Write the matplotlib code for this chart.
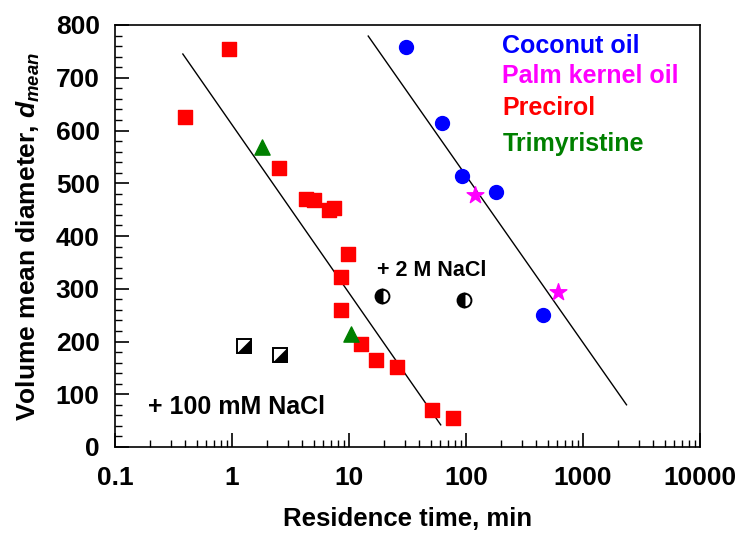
import matplotlib
matplotlib.use('Agg')
import matplotlib.pyplot as plt
import numpy as np
from matplotlib.ticker import MultipleLocator, LogLocator, NullFormatter, FixedLocator
from matplotlib.path import Path

plt.rcParams['font.family'] = ['Liberation Sans', 'DejaVu Sans']
plt.rcParams['font.weight'] = 'bold'
plt.rcParams['mathtext.fontset'] = 'custom'
plt.rcParams['mathtext.rm'] = 'Liberation Sans:bold'
plt.rcParams['mathtext.it'] = 'Liberation Sans:italic:bold'
plt.rcParams['mathtext.bf'] = 'Liberation Sans:bold'

### Data ###
coconut_t = [31, 62, 92, 182, 456]
coconut_d = [758, 615, 513, 483, 251]

palm_t = [120, 611]
palm_d = [477, 293]

precirol_t = [0.40, 0.95, 2.5, 4.27, 5.06, 6.8, 7.5, 9.9, 8.6, 8.6, 12.7, 17.1, 25.8, 51, 77]
precirol_d = [625, 755, 528, 471, 468, 450, 454, 365, 323, 260, 196, 165, 152, 70, 55]

trimyr_t = [1.8, 10.5]
trimyr_d = [568, 215]

nacl100_t = [1.27, 2.56]
nacl100_d = [192, 175]

nacl2m_t = [19.2, 95.6]
nacl2m_d = [287, 279]

fit1_t = [0.38, 60.8]
fit1_d = [745, 42]
fit2_t = [14.6, 2355]
fit2_d = [779, 80]

legend_names = ['Coconut oil', 'Palm kernel oil', 'Precirol', 'Trimyristine']
legend_colors = ['#0000ff', '#ff00ff', '#ff0000', '#008000']

### Plot ###
fig = plt.figure(figsize=(7.36, 5.33), dpi=100)
ax = fig.add_axes([115/736, 1 - 447/533, 585/736, 422/533])

ax.plot(fit1_t, fit1_d, color='black', lw=1)
ax.plot(fit2_t, fit2_d, color='black', lw=1)

ax.scatter(precirol_t, precirol_d, marker='s', s=110, color='#ff0000', zorder=3)
ax.scatter(trimyr_t, trimyr_d, marker='^', s=120, color='#008000', zorder=3)
ax.scatter(coconut_t, coconut_d, marker='o', s=100, color='#0000ff', zorder=3)
ax.scatter(palm_t, palm_d, marker='*', s=160, color='#ff00ff', zorder=3)

# diagonally split squares: white upper-left, black lower-right
lower_right = Path([(1, 1), (1, -1), (-1, -1), (1, 1)], closed=True)
ax.plot(nacl100_t, nacl100_d, ls='none', marker='s', ms=10,
        markerfacecolor='white', markeredgecolor='black', markeredgewidth=1.4, zorder=3)
ax.plot(nacl100_t, nacl100_d, ls='none', marker=lower_right, ms=10,
        markerfacecolor='black', markeredgecolor='black', markeredgewidth=0.5, zorder=4)
ax.plot(nacl2m_t, nacl2m_d, ls='none', marker='o', ms=10, fillstyle='left',
        markerfacecolor='black', markerfacecoloralt='white', markeredgecolor='black',
        markeredgewidth=1.4, zorder=3)

ax.set_xscale('log')
ax.set_xlim(0.1, 10000)
ax.set_ylim(0, 800)

ax.yaxis.set_major_locator(MultipleLocator(100))
ax.yaxis.set_minor_locator(MultipleLocator(20))
ax.xaxis.set_major_locator(FixedLocator([0.1, 1, 10, 100, 1000, 10000]))
ax.xaxis.set_minor_locator(LogLocator(base=10, subs=np.arange(2, 10), numticks=20))
ax.xaxis.set_minor_formatter(NullFormatter())
ax.set_xticklabels(['0.1', '1', '10', '100', '1000', '10000'])

ax.tick_params(which='major', direction='in', length=10, width=1.2, labelsize=19)
ax.tick_params(axis='y', which='major', pad=11)
ax.tick_params(axis='x', which='major', pad=14)
ax.tick_params(which='minor', direction='in', length=5, width=1)
ax.tick_params(axis='x', which='both', top=False)
ax.tick_params(axis='y', which='both', right=False)
for lab in ax.get_xticklabels() + ax.get_yticklabels():
    lab.set_fontweight('bold')
for sp in ax.spines.values():
    sp.set_linewidth(1.2)

ax.set_xlabel('Residence time, min', fontsize=18.5, fontweight='bold', labelpad=12)
ax.set_ylabel(r'Volume mean diameter, $d_{mean}$', fontsize=19, fontweight='bold', labelpad=10)

ax.text(17.5, 335, '+ 2 M NaCl', fontsize=15.5, fontweight='bold', va='center')
ax.text(0.19, 75, '+ 100 mM NaCl', fontsize=18, fontweight='bold', va='center')

legend_y = [0.95, 0.879, 0.803, 0.718]
for name, col, yy in zip(legend_names, legend_colors, legend_y):
    ax.text(0.662, yy, name, color=col, fontsize=18, fontweight='bold',
            transform=ax.transAxes, va='center')

fig.savefig('out.png', dpi=100)
